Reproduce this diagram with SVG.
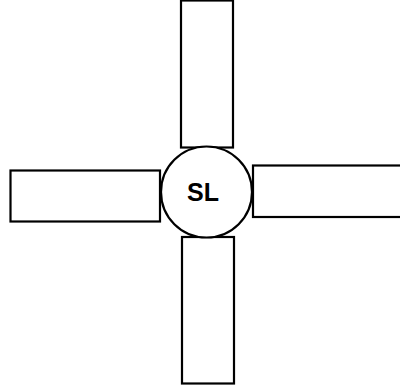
<svg xmlns="http://www.w3.org/2000/svg" width="400" height="392" viewBox="0 0 400 392">
<style>
.b{fill:#fff;stroke:#000;stroke-width:2.2}
.t{font-family:"Liberation Sans",Arial,sans-serif;font-weight:bold;font-size:25px;fill:#000;text-anchor:middle}
</style>
<rect width="400" height="392" fill="#fff"/>
<g id="top"><rect class="b" x="181" y="0.5" width="52" height="147"/></g>
<g id="left"><rect class="b" x="10.5" y="170.5" width="149.5" height="51"/></g>
<g id="right"><rect class="b" x="253" y="165.5" width="150" height="51.5"/></g>
<g id="bottom"><rect class="b" x="182" y="237" width="52" height="146.5"/></g>
<g id="connectors"></g>
<g id="center"><circle class="b" cx="206.5" cy="192" r="45.5"/><text class="t" x="203" y="201">SL</text></g>
</svg>
